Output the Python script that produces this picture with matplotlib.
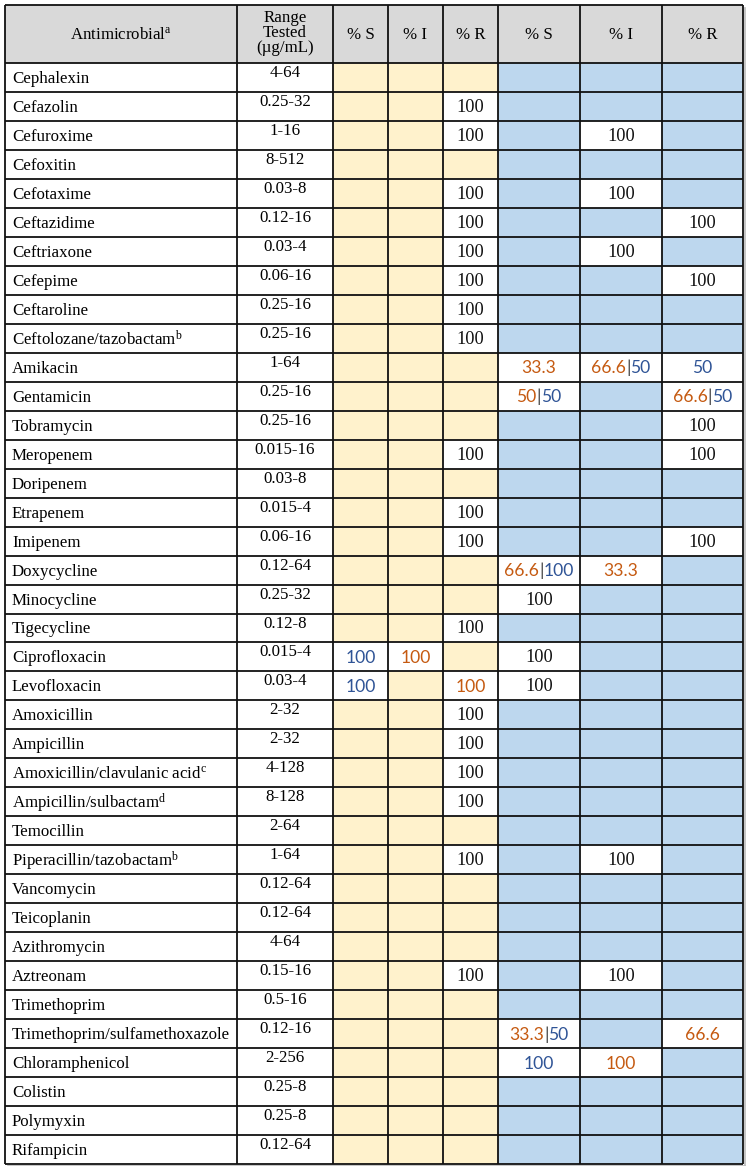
import matplotlib
matplotlib.use("Agg")
import matplotlib.pyplot as plt
from matplotlib.patches import Rectangle

plt.rcParams['mathtext.fontset'] = 'custom'
plt.rcParams['mathtext.rm'] = 'Liberation Serif'
plt.rcParams['mathtext.it'] = 'Liberation Serif'

names = ["Cephalexin", "Cefazolin", "Cefuroxime", "Cefoxitin", "Cefotaxime", "Ceftazidime",
         "Ceftriaxone", "Cefepime", "Ceftaroline", "Ceftolozane/tazobactam$^{\\mathrm{b}}$",
         "Amikacin", "Gentamicin", "Tobramycin", "Meropenem", "Doripenem", "Etrapenem",
         "Imipenem", "Doxycycline", "Minocycline", "Tigecycline", "Ciprofloxacin",
         "Levofloxacin", "Amoxicillin", "Ampicillin", "Amoxicillin/clavulanic acid$^{\\mathrm{c}}$",
         "Ampicillin/sulbactam$^{\\mathrm{d}}$", "Temocillin", "Piperacillin/tazobactam$^{\\mathrm{b}}$",
         "Vancomycin", "Teicoplanin", "Azithromycin", "Aztreonam", "Trimethoprim",
         "Trimethoprim/sulfamethoxazole", "Chloramphenicol", "Colistin", "Polymyxin", "Rifampicin"]
ranges = ["4-64", "0.25-32", "1-16", "8-512", "0.03-8", "0.12-16", "0.03-4", "0.06-16",
          "0.25-16", "0.25-16", "1-64", "0.25-16", "0.25-16", "0.015-16", "0.03-8", "0.015-4",
          "0.06-16", "0.12-64", "0.25-32", "0.12-8", "0.015-4", "0.03-4", "2-32", "2-32",
          "4-128", "8-128", "2-64", "1-64", "0.12-64", "0.12-64", "4-64", "0.15-16", "0.5-16",
          "0.12-16", "2-256", "0.25-8", "0.25-8", "0.12-64"]

# value codes: K = black, O = orange, B = blue; segments joined by '|'
s1 = {20: "B100", 21: "B100"}
i1 = {20: "O100"}
r1 = {1: "K100", 2: "K100", 4: "K100", 5: "K100", 6: "K100", 7: "K100", 8: "K100", 9: "K100",
      13: "K100", 15: "K100", 16: "K100", 19: "K100", 21: "O100", 22: "K100", 23: "K100",
      24: "K100", 25: "K100", 27: "K100", 31: "K100"}
s2 = {10: "O33.3", 11: "O50|B50", 17: "O66.6|B100", 18: "K100", 20: "K100", 21: "K100",
      33: "O33.3|B50", 34: "B100"}
i2 = {2: "K100", 4: "K100", 6: "K100", 10: "O66.6|B50", 17: "O33.3", 27: "K100", 31: "K100",
      34: "O100"}
r2 = {5: "K100", 7: "K100", 10: "B50", 11: "O66.6|B50", 12: "K100", 13: "K100", 16: "K100",
      33: "O66.6"}
header_vals = ["% S", "% I", "% R", "% S", "% I", "% R"]

value_cols = [s1, i1, r1, s2, i2, r2]
fills = ["#FFF2CC"] * 3 + ["#BDD7EE"] * 3
tcol = {"K": "#111111", "O": "#C55A11", "B": "#2F5496"}

W, H = 748, 1166
fig = plt.figure(figsize=(W / 100, H / 100), dpi=100)
ax = fig.add_axes([0, 0, 1, 1])
ax.set_xlim(0, W)
ax.set_ylim(H, 0)
ax.axis('off')

xe = [5, 237, 333, 388, 443, 498, 580, 662, 743]
top, hb, bot = 5, 63, 1164
n = len(names)
rh = (bot - hb) / n
ye = [hb + i * rh for i in range(n + 1)]

serif = "Liberation Serif"
sans = "Lato"
fs = 12.2
vfs = 12.6

# header
ax.add_patch(Rectangle((xe[0], top), xe[-1] - xe[0], hb - top, facecolor="#D9D9D9", edgecolor="none"))
hc = (top + hb) / 2
ax.text((xe[0] + xe[1]) / 2, hc + 1, "Antimicrobial$^{\\mathrm{a}}$", ha="center", va="center",
        fontsize=fs, family=serif)
ax.text((xe[1] + xe[2]) / 2, hc - 1, "Range\nTested\n(µg/mL)", ha="center", va="center",
        fontsize=fs, family=serif, linespacing=0.95)
for j, h in enumerate(header_vals):
    ax.text((xe[j + 2] + xe[j + 3]) / 2, hc + 1, h, ha="center", va="center", fontsize=fs,
            family=serif)

segs_to_place = []
for i in range(n):
    y0, y1 = ye[i], ye[i + 1]
    yc = (y0 + y1) / 2
    ax.text(12, yc + 1.5, names[i], ha="left", va="center", fontsize=fs, family=serif)
    ax.text((xe[1] + xe[2]) / 2, y0 + 10, ranges[i], ha="center", va="center", fontsize=fs,
            family=serif)
    for j, col in enumerate(value_cols):
        xa, xb = xe[j + 2], xe[j + 3]
        v = col.get(i)
        ax.add_patch(Rectangle((xa, y0), xb - xa, y1 - y0,
                               facecolor="white" if v else fills[j], edgecolor="none"))
        if v:
            segs_to_place.append(((xa + xb) / 2, yc + 1, v.split("|")))

# grid lines
for x in xe:
    ax.plot([x, x], [top, bot], color="#111111", lw=1.3, solid_capstyle="butt")
for y in [top, hb] + ye[1:]:
    ax.plot([xe[0], xe[-1]], [y, y], color="#111111", lw=1.3, solid_capstyle="butt")
ax.plot([xe[-1] + 2, xe[-1] + 2], [top + 3, bot + 2], color="#BBBBBB", lw=1.2)
ax.plot([xe[0] + 3, xe[-1] + 2], [bot + 2, bot + 2], color="#BBBBBB", lw=1.2)

# values (multi-coloured segments)
fig.canvas.draw()
r = fig.canvas.get_renderer()
for xc, yc, segs in segs_to_place:
    pieces = []
    for k, s in enumerate(segs):
        c, txt = s[0], s[1:]
        fam = serif if c == "K" else sans
        fsz = vfs + 0.6 if c == "K" else vfs
        if k > 0:
            pieces.append(("|", "#444444", sans, fsz))
        pieces.append((txt, tcol[c], fam, fsz))
    objs = [ax.text(0, yc, p[0], ha="left", va="center", color=p[1], family=p[2], fontsize=p[3])
            for p in pieces]
    widths = []
    for o in objs:
        bb = o.get_window_extent(renderer=r)
        widths.append(bb.width * 748 / fig.bbox.width)
    total = sum(widths)
    x = xc - total / 2
    for o, w in zip(objs, widths):
        o.set_x(x)
        x += w

fig.savefig("out.png", dpi=100)
